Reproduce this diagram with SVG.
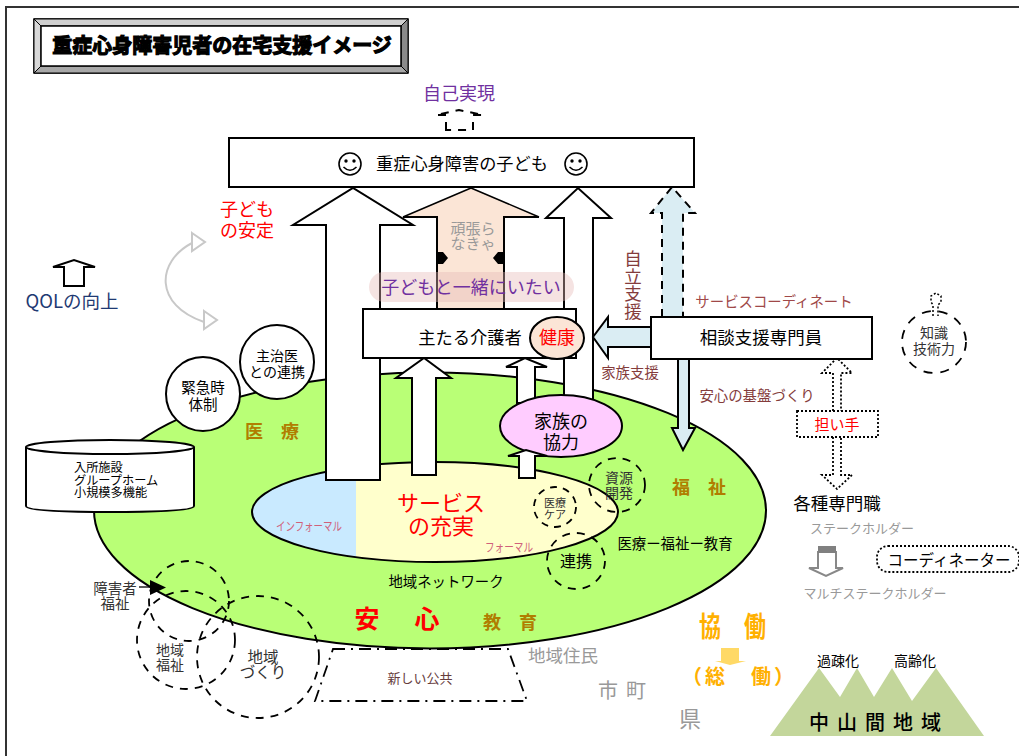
<svg xmlns="http://www.w3.org/2000/svg" width="1019" height="756" viewBox="0 0 1019 756">
<style>
text{font-family:"Noto Sans CJK JP","Noto Sans",sans-serif;fill:#000;text-anchor:middle}
.s{fill:#fff;stroke:#000;stroke-width:2}
.a{fill:#fff;stroke:#000;stroke-width:2;stroke-linejoin:miter}
.d{fill:none;stroke:#000;stroke-width:1.8;stroke-dasharray:8 7}
.br{fill:#843c3c}
.gr{fill:#999}
.gold{fill:#b07d00;font-weight:700;font-size:18px}
.or{fill:#ffb000;font-weight:700}
.red{fill:#f00}
.pink{fill:#d0607a;font-size:12px}
.dk{fill:#333}
</style>
<defs>
<clipPath id="blueclip"><rect x="240" y="450" width="116" height="120"/></clipPath>
<clipPath id="yelclip"><rect x="356" y="450" width="270" height="120"/></clipPath>
<g id="smile"><circle r="11" fill="#fff" stroke="#000" stroke-width="1.6"/><circle cx="-4" cy="-3" r="1.7"/><circle cx="4" cy="-3" r="1.7"/><path d="M-6.5 3Q0 9.5 6.5 3" fill="none" stroke="#000" stroke-width="1.5"/></g>
</defs>
<rect width="1019" height="756" fill="#fff"/>
<path id="frame" d="M6 756V7H1019" fill="none" stroke="#333" stroke-width="2"/>

<g id="title">
<rect x="34" y="19" width="374" height="54" fill="#fff" stroke="#000" stroke-width="1.5"/>
<path d="M34 19H408L401 26H41Z" fill="#d0d0d0" stroke="#000"/>
<path d="M408 19V73L401 66V26Z" fill="#8a8a8a" stroke="#000"/>
<path d="M34 73H408L401 66H41Z" fill="#a8a8a8" stroke="#000"/>
<path d="M34 19V73L41 66V26Z" fill="#d8d8d8" stroke="#000"/>
<rect x="41" y="26" width="360" height="40" fill="#fff" stroke="#000" stroke-width="1.5"/>
<text x="222" y="53" font-size="20" font-weight="700" stroke="#000" stroke-width="1.2">重症心身障害児者の在宅支援イメージ</text>
</g>

<g id="area-outer"><ellipse cx="430" cy="510.5" rx="336" ry="138" fill="#b9ff76" stroke="#000" stroke-width="2"/></g>
<g id="area-inner">
<ellipse cx="435" cy="512" rx="183" ry="50" fill="#c9eaff" clip-path="url(#blueclip)"/>
<ellipse cx="435" cy="512" rx="183" ry="50" fill="#ffffcc" clip-path="url(#yelclip)"/>
<ellipse cx="435" cy="512" rx="183" ry="50" fill="none" stroke="#000" stroke-width="2"/>
</g>

<g id="connectors">
<path class="a" d="M326 480V225H293L353 188L413 225H380V480Z"/>
<path d="M437 309V217H403L471 188L539 217H504V309Z" fill="#fbe5d6" stroke="none"/>
<path d="M403 217H437V309M539 217H504V309M380 225V309" fill="none" stroke="#000" stroke-width="2"/>
<path d="M471 188L403 217M471 188L539 217" fill="none" stroke="#000" stroke-width="1.5"/>
<path d="M437 252h6l5 6-5 6h-6zM504 252h-6l-5 6 5 6h6z" fill="#000"/>
<path class="a" d="M564 403V218H546L578 188L611 218H593V403Z"/>
<path class="a" d="M412 475V378H396L424 358L451 378H436V475Z"/>
<path class="a" d="M517 403V367H506L525 358L547 367H535V403Z"/>
<path d="M662 317V213H651L672 187L695 213H683V317Z" fill="#daedf3" stroke="#000" stroke-width="2" stroke-dasharray="8 6"/>
<path d="M678 359V428H672L683 450L695 428H689V359Z" fill="#daedf3" stroke="#000" stroke-width="2"/>
<path d="M651 327H608V317L593 337L608 358V347H651Z" fill="#daedf3" stroke="#000" stroke-width="2"/>
<path d="M833 411V373H822L837 358L852 373H841V411M833 437V475H822L837 489L852 475H841V437" fill="#fff" stroke="#000" stroke-width="1.8" stroke-dasharray="2 2"/>
<path d="M446 130V115H436L459 110L483 115H473V130Z" fill="#fff" stroke="#000" stroke-width="2" stroke-dasharray="8 7"/>
<path d="M64 286V267H53L74 260L95 267H84V286Z" fill="#fff" stroke="#000" stroke-width="2"/>
<path d="M933 316V305L931 302V296L936 293L941 296V302L938 305V316" fill="#fff" stroke="#000" stroke-width="1.5" stroke-dasharray="2 2"/>
<path d="M192 243C156 262 154 305 204 322" fill="none" stroke="#c8c8c8" stroke-width="2"/>
<path d="M192 233L205 242L192 251Z" fill="#fff" stroke="#c8c8c8" stroke-width="2"/>
<path d="M204 311L217 320L204 329Z" fill="#fff" stroke="#c8c8c8" stroke-width="2"/>
<path d="M818 568V552H836V568H843L826 576L809 568Z" fill="#fff" stroke="#888" stroke-width="2"/>
<rect x="818" y="546" width="18" height="7" fill="#808080"/>
<path d="M721 648H739V661H746L730 665L715 661H721Z" fill="#ffd966"/>
<path d="M139 587H152" stroke="#000" stroke-width="1.3"/>
<path d="M150 580L166 587.5L150 595Z" fill="#000"/>
</g>

<g id="node-child">
<rect class="s" x="229" y="138" width="465" height="49"/>
<use href="#smile" x="350" y="164"/>
<use href="#smile" x="576" y="164"/>
<text x="462" y="170" font-size="17.2">重症心身障害の子ども</text>
</g>
<g id="node-selfreal"><text x="459" y="100" font-size="18" style="fill:#7030a0">自己実現</text></g>
<g id="node-stable"><text font-size="18" class="red"><tspan x="247" y="216">子ども</tspan><tspan x="247" y="237">の安定</tspan></text></g>
<g id="node-qol"><text x="72" y="308" font-size="18.5" style="fill:#1f3a73">QOLの向上</text></g>
<g id="node-ganbara"><text font-size="15" class="gr"><tspan x="473" y="234">頑張ら</tspan><tspan x="473" y="249">なきゃ</tspan></text></g>
<g id="node-together">
<rect x="369" y="272" width="205" height="30" rx="15" fill="#e6b8b7" fill-opacity=".4"/>
<text x="471" y="294" font-size="18" style="fill:#7030a0">子どもと一緒にいたい</text>
</g>
<g id="node-caregiver">
<rect class="s" x="363" y="309" width="213" height="49"/>
<text x="470" y="344" font-size="17.3">主たる介護者</text>
</g>
<g id="node-health">
<ellipse cx="557" cy="338" rx="27" ry="21" fill="#fbe5d6" stroke="#000" stroke-width="2"/>
<text x="557" y="344" font-size="18" class="red">健康</text>
</g>
<g id="node-family">
<ellipse cx="561" cy="426" rx="61" ry="31" fill="#ffccff" stroke="#000" stroke-width="2"/>
<text font-size="18"><tspan x="561" y="428">家族の</tspan><tspan x="561" y="449">協力</tspan></text>
</g>
<g id="node-family-arrow"><path class="a" d="M519 478V456H508L526 450L547 456H535V478Z"/></g>
<g id="node-consult">
<rect class="s" x="651" y="317" width="221" height="42"/>
<text x="761" y="344" font-size="17.5">相談支援専門員</text>
</g>
<g id="labels-support">
<text x="774" y="307" font-size="14.4" style="fill:#a04848">サービスコーディネート</text>
<text font-size="17.5" class="br"><tspan x="633" y="265">自</tspan><tspan x="633" y="282.500">立</tspan><tspan x="633" y="300">支</tspan><tspan x="633" y="317.500">援</tspan></text>
<text x="630" y="378" font-size="14.4" class="br">家族支援</text>
<text x="757" y="401" font-size="14.4" class="br">安心の基盤づくり</text>
</g>
<g id="node-knowledge">
<ellipse cx="934" cy="342" rx="32" ry="31" class="d" style="stroke-dasharray:9 8"/>
<text font-size="14" class="dk"><tspan x="934" y="338">知識</tspan><tspan x="934" y="354">技術力</tspan></text>
</g>
<g id="node-ninaite">
<rect x="797" y="411" width="81" height="26" fill="#fff" stroke="#000" stroke-width="1.8" stroke-dasharray="2 2"/>
<text x="837" y="430" font-size="15" class="red">担い手</text>
</g>
<g id="node-doctor">
<circle class="s" cx="277" cy="362" r="37"/>
<text font-size="14"><tspan x="277" y="361">主治医</tspan><tspan x="277" y="377">との連携</tspan></text>
</g>
<g id="node-emergency">
<circle class="s" cx="203" cy="394" r="37"/>
<text font-size="14.5"><tspan x="203" y="393">緊急時</tspan><tspan x="203" y="410">体制</tspan></text>
</g>
<g id="node-facility">
<path class="s" d="M26 447V506Q26 512 110 512Q194 512 194 506V447"/>
<ellipse class="s" cx="110" cy="447" rx="84" ry="7"/>
<text style="font-size:12.2px;text-anchor:start"><tspan x="74" y="472">入所施設</tspan><tspan x="74" y="485">グループホーム</tspan><tspan x="74" y="497">小規模多機能</tspan></text>
</g>
<g id="labels-field">
<text x="272" y="438" class="gold" xml:space="preserve">医　療</text>
<text x="699" y="494" class="gold" xml:space="preserve">福　祉</text>
<text x="510" y="629" class="gold" xml:space="preserve">教　育</text>
<text x="309" y="531" class="pink" textLength="66" lengthAdjust="spacingAndGlyphs">インフォーマル</text>
<text x="509" y="552" class="pink" textLength="48" lengthAdjust="spacingAndGlyphs">フォーマル</text>
<text font-size="22" class="red"><tspan x="441" y="511">サービス</tspan><tspan x="441" y="534">の充実</tspan></text>
<text x="675" y="549" font-size="14.4">医療ー福祉ー教育</text>
<text x="446" y="587" font-size="14.4">地域ネットワーク</text>
<text font-size="25" font-weight="700" class="red"><tspan x="367" y="628">安</tspan><tspan x="427" y="628">心</tspan></text>
<text x="420" y="683" font-size="13" style="fill:#663c3c">新しい公共</text>
</g>
<g id="node-resource">
<ellipse class="d" cx="617" cy="485" rx="28" ry="27"/>
<text font-size="14" class="dk"><tspan x="619" y="483">資源</tspan><tspan x="619" y="498">開発</tspan></text>
</g>
<g id="node-care">
<ellipse class="d" cx="555" cy="507" rx="21" ry="20" style="stroke-dasharray:7 6"/>
<text font-size="11" class="dk"><tspan x="555" y="507">医療</tspan><tspan x="555" y="519">ケア</tspan></text>
</g>
<g id="node-renkei">
<ellipse class="d" cx="576" cy="561" rx="29" ry="28"/>
<text x="576" y="567" font-size="16">連携</text>
</g>
<g id="node-public">
<path d="M333 649H508L527 701H315Z" fill="none" stroke="#000" stroke-width="1.8" stroke-dasharray="12 6 2 6"/>
</g>
<g id="node-welfare-circles">
<circle class="d" cx="189" cy="601" r="40"/>
<circle class="d" cx="186" cy="640" r="49"/>
<circle class="d" cx="258" cy="657" r="61"/>
<text font-size="14.500" class="dk"><tspan x="115" y="594">障害者</tspan><tspan x="115" y="609">福祉</tspan></text>
<text font-size="14" class="dk"><tspan x="170" y="655">地域</tspan><tspan x="170" y="670">福祉</tspan></text>
<text font-size="15.5" class="dk"><tspan x="263" y="663">地域</tspan><tspan x="263" y="678">づくり</tspan></text>
</g>
<g id="labels-region">
<text x="563" y="662" font-size="17.5" class="gr">地域住民</text>
<text font-size="20" class="gr"><tspan x="608" y="698">市</tspan><tspan x="636" y="698">町</tspan></text>
<text x="690" y="727" font-size="22" class="gr">県</text>
</g>
<g id="node-kyodo">
<text class="or" font-size="22" transform="translate(0,637) scale(1,1.28)"><tspan x="710" y="0">協</tspan><tspan x="755" y="0">働</tspan></text>
<text font-size="20" class="or"><tspan x="692" y="684">（</tspan><tspan x="715" y="684">総</tspan><tspan x="761" y="684">働</tspan><tspan x="784" y="684">）</tspan></text>
</g>
<g id="labels-stake">
<text x="837" y="510" font-size="17.5">各種専門職</text>
<text x="862" y="533" font-size="13" class="gr">ステークホルダー</text>
<text x="875" y="598" font-size="13" class="gr">マルチステークホルダー</text>
</g>
<g id="node-coordinator">
<rect x="877" y="546" width="142" height="26" rx="11" fill="#fff" stroke="#000" stroke-width="1.8" stroke-dasharray="2 2"/>
<text x="949" y="566" font-size="15.5">コーディネーター</text>
</g>
<g id="node-mountain">
<path d="M770 736L819 668L840 697L857 668L874 697L892 668L912 701L936 668L984 736Z" fill="#c3d69b"/>
<text x="879" y="730" font-size="20" font-weight="500" style="letter-spacing:8px">中山間地域</text>
<text x="838" y="666" font-size="14">過疎化</text>
<text x="915" y="666" font-size="14">高齢化</text>
</g>
</svg>
